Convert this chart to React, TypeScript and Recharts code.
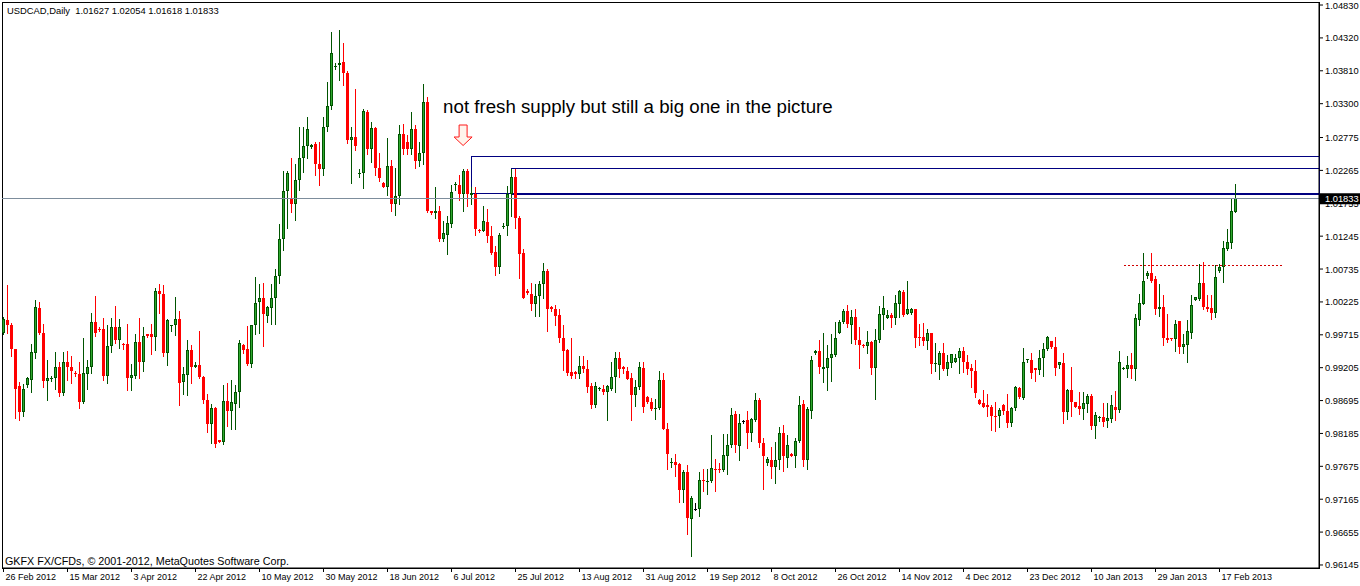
import React from 'react';
import { ComposedChart, Bar, XAxis, YAxis, ReferenceLine, ReferenceArea, ReferenceDot } from 'recharts';

// ---- daily USDCAD bars (open / high / low / close) ----
const OPEN = [
  0.9975,0.9994,0.9987,0.9949,0.9892,0.9851,0.9894,0.9901,0.9944,1.0013,
  0.9974,0.9900,0.9904,0.9905,0.9922,0.9881,0.9929,0.9921,0.9912,0.9910,
  0.9868,0.9911,0.9921,0.9992,0.9981,0.9981,0.9907,0.9954,0.9984,0.9964,
  0.9958,0.9958,0.9904,0.9907,0.9961,0.9929,0.9972,0.9972,0.9968,1.0039,
  1.0035,0.9944,0.9985,0.9987,0.9996,0.9899,0.9909,0.9948,0.9921,0.9925,
  0.9906,0.9871,0.9833,0.9858,0.9808,0.9806,0.9869,0.9854,0.9864,0.9883,
  0.9955,0.9949,0.9926,0.9987,1.0022,1.0029,1.0000,1.0013,1.0029,1.0062,
  1.0120,1.0195,1.0183,1.0174,1.0212,1.0245,1.0264,1.0263,1.0268,1.0237,
  1.0228,1.0294,1.0326,1.0387,1.0390,1.0394,1.0378,1.0274,1.0278,1.0221,
  1.0222,1.0317,1.0259,1.0293,1.0230,1.0207,1.0200,1.0233,1.0175,1.0187,
  1.0283,1.0271,1.0259,1.0291,1.0241,1.0254,1.0333,1.0163,1.0161,1.0164,
  1.0120,1.0127,1.0143,1.0204,1.0204,1.0190,1.0225,1.0189,1.0190,1.0134,
  1.0132,1.0146,1.0125,1.0100,1.0076,1.0139,1.0141,1.0190,1.0216,1.0153,
  1.0099,1.0039,1.0035,1.0019,1.0032,1.0051,1.0071,1.0015,1.0012,1.0002,
  0.9967,0.9948,0.9914,0.9914,0.9910,0.9923,0.9919,0.9892,0.9863,0.9887,
  0.9887,0.9883,0.9887,0.9906,0.9936,0.9922,0.9916,0.9904,0.9878,0.9891,
  0.9920,0.9875,0.9867,0.9857,0.9858,0.9901,0.9826,0.9772,0.9774,0.9771,
  0.9731,0.9758,0.9686,0.9702,0.9702,0.9746,0.9744,0.9744,0.9764,0.9764,
  0.9762,0.9784,0.9800,0.9848,0.9799,0.9838,0.9840,0.9819,0.9840,0.9871,
  0.9804,0.9772,0.9777,0.9767,0.9777,0.9819,0.9781,0.9787,0.9784,0.9807,
  0.9864,0.9777,0.9854,0.9944,0.9946,0.9919,0.9920,0.9935,0.9940,0.9975,
  0.9992,1.0008,0.9987,0.9999,0.9964,0.9956,0.9954,0.9961,0.9920,0.9963,
  1.0002,0.9998,1.0002,0.9997,1.0019,1.0038,1.0004,1.0006,1.0011,0.9968,
  0.9968,0.9962,0.9974,0.9926,0.9925,0.9944,0.9919,0.9927,0.9930,0.9935,
  0.9946,0.9930,0.9920,0.9916,0.9871,0.9865,0.9862,0.9859,0.9846,0.9845,
  0.9862,0.9854,0.9834,0.9858,0.9889,0.9874,0.9932,0.9933,0.9920,0.9917,
  0.9935,0.9949,0.9962,0.9953,0.9925,0.9927,0.9851,0.9886,0.9867,0.9861,
  0.9856,0.9864,0.9877,0.9830,0.9843,0.9844,0.9838,0.9841,0.9860,0.9855,
  0.9919,0.9919,0.9924,0.9918,0.9994,1.0020,1.0062,1.0067,1.0058,1.0011,
  1.0015,0.9967,0.9967,0.9965,0.9993,0.9952,0.9955,0.9975,1.0026,1.0027,
  1.0052,1.0015,1.0013,1.0006,1.0071,1.0077,1.0104,1.0114,1.01627,
];
const HIGH = [
  0.9999,1.0048,0.9990,0.9950,0.9899,0.9895,0.9906,0.9958,1.0026,1.0023,
  0.9989,0.9933,0.9907,0.9945,0.9929,0.9945,0.9946,0.9938,0.9915,0.9929,
  0.9967,0.9932,1.0006,1.0032,0.9983,0.9998,0.9987,0.9998,1.0016,0.9996,
  0.9959,0.9989,0.9926,0.9972,0.9997,0.9984,0.9973,0.9988,1.0044,1.0051,
  1.0048,0.9996,0.9987,1.0030,1.0009,0.9922,0.9963,0.9955,0.9929,0.9977,
  0.9907,0.9879,0.9864,0.9860,0.9809,0.9893,0.9897,0.9901,0.9894,0.9963,
  0.9957,0.9985,0.9987,1.0061,1.0051,1.0052,1.0016,1.0051,1.0074,1.0143,
  1.0225,1.0226,1.0245,1.0237,1.0294,1.0294,1.0310,1.0268,1.0270,1.0270,
  1.0310,1.0364,1.0441,1.0393,1.0445,1.0424,1.0381,1.0294,1.0353,1.0229,
  1.0321,1.0320,1.0301,1.0294,1.0254,1.0208,1.0277,1.0243,1.0230,1.0297,
  1.0298,1.0281,1.0317,1.0297,1.0270,1.0361,1.0340,1.0164,1.0200,1.0171,
  1.0148,1.0156,1.0204,1.0208,1.0219,1.0228,1.0229,1.0201,1.0201,1.0135,
  1.0172,1.0167,1.0140,1.0109,1.0129,1.0145,1.0203,1.0229,1.0229,1.0155,
  1.0104,1.0042,1.0052,1.0051,1.0055,1.0083,1.0074,1.0016,1.0017,1.0012,
  0.9987,0.9950,0.9967,0.9915,0.9938,0.9938,0.9932,0.9896,0.9899,0.9891,
  0.9893,0.9894,0.9930,0.9945,0.9945,0.9923,0.9922,0.9912,0.9901,0.9930,
  0.9929,0.9876,0.9874,0.9872,0.9916,0.9912,0.9834,0.9780,0.9786,0.9773,
  0.9762,0.9770,0.9721,0.9711,0.9759,0.9763,0.9763,0.9816,0.9779,0.9772,
  0.9818,0.9818,0.9858,0.9854,0.9848,0.9840,0.9853,0.9842,0.9882,0.9874,
  0.9812,0.9782,0.9797,0.9805,0.9828,0.9832,0.9816,0.9788,0.9812,0.9877,
  0.9870,0.9859,0.9938,0.9948,0.9963,0.9974,0.9956,0.9972,0.9992,0.9994,
  1.0012,1.0017,1.0010,1.0011,0.9983,0.9958,0.9977,0.9962,0.9981,1.0016,
  1.0031,1.0010,1.0005,1.0033,1.0041,1.0041,1.0055,1.0013,1.0012,0.9989,
  0.9990,0.9981,0.9975,0.9959,0.9946,0.9959,0.9940,0.9941,0.9941,0.9951,
  0.9952,0.9940,0.9926,0.9932,0.9872,0.9886,0.9880,0.9862,0.9867,0.9858,
  0.9864,0.9880,0.9860,0.9892,0.9890,0.9951,0.9934,0.9944,0.9920,0.9948,
  0.9959,0.9970,0.9962,0.9968,0.9930,0.9944,0.9887,0.9921,0.9867,0.9883,
  0.9883,0.9880,0.9879,0.9851,0.9845,0.9865,0.9865,0.9878,0.9884,0.9946,
  0.9922,0.9938,0.9944,1.0003,1.0035,1.0098,1.0071,1.0098,1.0062,1.0051,
  1.0033,1.0003,0.9967,0.9994,0.9993,0.9973,0.9994,1.0033,1.0030,1.0081,
  1.0084,1.0033,1.0033,1.0080,1.0081,1.0117,1.0135,1.0184,1.02054,
];
const LOW = [
  0.9972,0.9974,0.9938,0.9842,0.9839,0.9845,0.9891,0.9883,0.9935,0.9972,
  0.9890,0.9870,0.9900,0.9888,0.9877,0.9878,0.9902,0.9897,0.9907,0.9858,
  0.9866,0.9888,0.9912,0.9970,0.9977,0.9902,0.9897,0.9945,0.9959,0.9951,
  0.9950,0.9886,0.9886,0.9905,0.9905,0.9915,0.9968,0.9942,0.9948,1.0006,
  0.9938,0.9925,0.9978,0.9971,0.9862,0.9880,0.9878,0.9896,0.9921,0.9904,
  0.9865,0.9820,0.9803,0.9798,0.9805,0.9802,0.9830,0.9826,0.9825,0.9859,
  0.9944,0.9924,0.9922,0.9973,0.9974,0.9954,0.9992,0.9989,0.9988,1.0052,
  1.0103,1.0137,1.0162,1.0149,1.0196,1.0224,1.0245,1.0262,1.0220,1.0204,
  1.0219,1.0288,1.0322,1.0384,1.0367,1.0359,1.0269,1.0207,1.0258,1.0216,
  1.0199,1.0252,1.0239,1.0220,1.0210,1.0200,1.0189,1.0164,1.0157,1.0174,
  1.0252,1.0252,1.0252,1.0230,1.0233,1.0236,1.0162,1.0159,1.0153,1.0117,
  1.0117,1.0097,1.0139,1.0196,1.0180,1.0163,1.0171,1.0174,1.0127,1.0131,
  1.0132,1.0116,1.0097,1.0064,1.0067,1.0137,1.0127,1.0155,1.0137,1.0060,
  1.0028,1.0035,1.0010,1.0000,1.0000,1.0028,0.9977,1.0009,0.9987,0.9960,
  0.9917,0.9909,0.9904,0.9904,0.9904,0.9914,0.9883,0.9858,0.9860,0.9886,
  0.9880,0.9839,0.9886,0.9883,0.9906,0.9913,0.9903,0.9839,0.9861,0.9887,
  0.9851,0.9865,0.9855,0.9841,0.9857,0.9825,0.9763,0.9767,0.9752,0.9712,
  0.9712,0.9663,0.9629,0.9699,0.9691,0.9730,0.9724,0.9743,0.9730,0.9758,
  0.9760,0.9755,0.9798,0.9789,0.9778,0.9834,0.9796,0.9807,0.9838,0.9797,
  0.9732,0.9770,0.9749,0.9741,0.9764,0.9760,0.9766,0.9783,0.9767,0.9805,
  0.9768,0.9763,0.9842,0.9942,0.9913,0.9899,0.9886,0.9900,0.9939,0.9974,
  0.9990,0.9983,0.9959,0.9958,0.9920,0.9952,0.9944,0.9910,0.9872,0.9961,
  0.9981,0.9997,0.9983,0.9988,0.9999,1.0000,1.0003,1.0004,0.9952,0.9955,
  0.9955,0.9949,0.9912,0.9915,0.9903,0.9917,0.9909,0.9921,0.9930,0.9913,
  0.9914,0.9910,0.9890,0.9875,0.9864,0.9859,0.9845,0.9824,0.9822,0.9829,
  0.9849,0.9829,0.9830,0.9855,0.9873,0.9872,0.9930,0.9904,0.9900,0.9910,
  0.9907,0.9948,0.9951,0.9909,0.9920,0.9834,0.9841,0.9845,0.9860,0.9849,
  0.9841,0.9851,0.9825,0.9812,0.9838,0.9830,0.9829,0.9837,0.9839,0.9851,
  0.9919,0.9906,0.9905,0.9901,0.9987,1.0019,1.0059,1.0054,1.0004,1.0000,
  0.9955,0.9961,0.9963,0.9946,0.9944,0.9944,0.9930,0.9967,1.0025,1.0026,
  1.0011,1.0009,0.9996,0.9999,1.0069,1.0054,1.0103,1.0106,1.01618,
];
const CLOSE = [
  0.9996,0.9987,0.9949,0.9888,0.9851,0.9888,0.9904,0.9945,1.0015,0.9974,
  0.9900,0.9905,0.9905,0.9922,0.9881,0.9929,0.9921,0.9915,0.9910,0.9868,
  0.9912,0.9921,0.9992,0.9975,0.9979,0.9907,0.9954,0.9984,0.9964,0.9984,
  0.9957,0.9904,0.9909,0.9961,0.9929,0.9969,0.9970,0.9968,1.0039,1.0035,
  0.9944,0.9995,0.9987,0.9996,0.9897,0.9910,0.9948,0.9921,0.9925,0.9906,
  0.9870,0.9833,0.9858,0.9802,0.9806,0.9869,0.9854,0.9867,0.9883,0.9959,
  0.9948,0.9926,0.9987,1.0021,1.0029,1.0003,1.0015,1.0029,1.0062,1.0120,
  1.0195,1.0222,1.0174,1.0212,1.0245,1.0264,1.0291,1.0266,1.0237,1.0229,
  1.0294,1.0326,1.0409,1.0389,1.0393,1.0378,1.0274,1.0278,1.0265,1.0223,
  1.0319,1.0259,1.0293,1.0230,1.0214,1.0200,1.0233,1.0175,1.0187,1.0283,
  1.0259,1.0259,1.0291,1.0241,1.0254,1.0332,1.0164,1.0161,1.0164,1.0120,
  1.0129,1.0145,1.0193,1.0206,1.0190,1.0225,1.0190,1.0192,1.0136,1.0132,
  1.0148,1.0125,1.0099,1.0076,1.0127,1.0141,1.0190,1.0216,1.0152,1.0097,
  1.0029,1.0036,1.0019,1.0032,1.0051,1.0071,1.0012,1.0012,1.0000,0.9966,
  0.9946,0.9912,0.9908,0.9910,0.9923,0.9918,0.9890,0.9863,0.9892,0.9889,
  0.9883,0.9892,0.9906,0.9936,0.9919,0.9918,0.9903,0.9878,0.9891,0.9922,
  0.9860,0.9867,0.9857,0.9858,0.9901,0.9825,0.9786,0.9774,0.9770,0.9731,
  0.9758,0.9687,0.9718,0.9702,0.9746,0.9744,0.9745,0.9765,0.9762,0.9762,
  0.9785,0.9800,0.9847,0.9800,0.9834,0.9838,0.9819,0.9841,0.9871,0.9803,
  0.9783,0.9779,0.9767,0.9778,0.9819,0.9783,0.9800,0.9783,0.9807,0.9863,
  0.9777,0.9857,0.9933,0.9946,0.9921,0.9922,0.9936,0.9941,0.9967,0.9992,
  1.0008,0.9989,0.9999,0.9963,0.9955,0.9955,0.9961,0.9920,0.9964,1.0003,
  1.0013,1.0002,0.9998,1.0021,1.0039,1.0002,1.0011,1.0011,0.9966,0.9966,
  0.9962,0.9975,0.9926,0.9928,0.9944,0.9919,0.9929,0.9941,0.9936,0.9946,
  0.9929,0.9919,0.9915,0.9881,0.9864,0.9859,0.9859,0.9845,0.9845,0.9855,
  0.9854,0.9834,0.9858,0.9890,0.9875,0.9929,0.9934,0.9912,0.9917,0.9935,
  0.9949,0.9968,0.9952,0.9920,0.9930,0.9851,0.9886,0.9868,0.9860,0.9856,
  0.9865,0.9876,0.9830,0.9847,0.9844,0.9836,0.9842,0.9863,0.9855,0.9930,
  0.9920,0.9924,0.9919,0.9997,1.0021,1.0055,1.0068,1.0055,1.0011,1.0015,
  0.9967,0.9963,0.9965,0.9989,0.9952,0.9957,0.9977,1.0018,1.0030,1.0052,
  1.0015,1.0011,1.0006,1.0061,1.0077,1.0106,1.0116,1.0164,1.01833,
];

// ---- axis labels ----
const DATE_TICK_BARS = [0,16,32,48,64,80,96,112,128,144,160,176,192,208,224,240,256,272,288,304];
const DATE_TICK_LABELS = [
  '26 Feb 2012','15 Mar 2012','3 Apr 2012','22 Apr 2012','10 May 2012','30 May 2012','18 Jun 2012',
  '6 Jul 2012','25 Jul 2012','13 Aug 2012','31 Aug 2012','19 Sep 2012','8 Oct 2012','26 Oct 2012',
  '14 Nov 2012','4 Dec 2012','23 Dec 2012','10 Jan 2013','29 Jan 2013','17 Feb 2013',
];
const PRICE_TICKS = [
  1.0483,1.0432,1.0381,1.033,1.02775,1.02265,1.01755,1.01245,1.00735,1.00225,
  0.99715,0.99205,0.98695,0.98185,0.97675,0.97165,0.96655,0.96145,
];
const LAST_PRICE = 1.01833;

// ---- drawn objects (bar index / price) ----
const ZONE_A = { fromBar: 116.9, top: 1.02473, bottom: 1.01907 };
const ZONE_B = { fromBar: 126.9, top: 1.02302, bottom: 1.01891 };
const BREAK_LEVEL = { fromBar: 280.1, toBar: 320.1, price: 1.0079 };
const ARROW_TIP = { bar: 114.9, price: 1.02651 };
const NOTE_AT = { bar: 109.9, price: 1.03155 };

const HEADER = 'USDCAD,Daily  1.01627 1.02054 1.01618 1.01833';
const FOOTER = 'GKFX FX/CFDs, \u00A9 2001-2012, MetaQuotes Software Corp.';
const NOTE = 'not fresh supply but still a big one in the picture';

const X_DOMAIN: [number, number] = [-0.375, 328.875];
const Y_DOMAIN: [number, number] = [0.96098, 1.04877];

const AXIS_FONT = "'Liberation Sans', Arial, sans-serif";

const n = Math.min(OPEN.length, HIGH.length, LOW.length, CLOSE.length);
const data = Array.from({ length: n }, (_, i) => ({
  i,
  o: OPEN[i],
  h: HIGH[i],
  l: LOW[i],
  c: CLOSE[i],
  range: [LOW[i], HIGH[i]],
}));

const UP_EDGE = '#005400';
const UP_FILL = '#2fa82f';
const DOWN = '#ff0000';

const Candle = (props: any) => {
  const { x, y, width, height, payload } = props;
  if (!payload || x == null || y == null) return null;
  const { o, h, l, c } = payload;
  const top = Math.min(y, y + height);
  const bot = Math.max(y, y + height);
  const span = h - l || 1e-9;
  const yOf = (p: number) => top + ((h - p) / span) * (bot - top);
  const cx = Math.floor(x + width / 2) + 0.5;
  const up = c > o;
  const down = c < o;
  const wick = up ? UP_EDGE : down ? DOWN : '#000';
  const yHi = Math.round(yOf(h));
  const yLo = Math.round(yOf(l));
  const bTop = Math.round(yOf(Math.max(o, c)));
  const bBot = Math.round(yOf(Math.min(o, c)));
  const bh = Math.max(1, bBot - bTop);
  return (
    <g>
      <line x1={cx} x2={cx} y1={yHi} y2={yLo + 1} stroke={wick} strokeWidth={1} shapeRendering="crispEdges" />
      {up && (
        <g shapeRendering="crispEdges">
          <rect x={cx - 1.5} y={bTop} width={3} height={bh} fill={UP_EDGE} />
          {bh > 2 && <rect x={cx - 0.5} y={bTop + 1} width={1} height={bh - 2} fill={UP_FILL} />}
        </g>
      )}
      {down && <rect x={cx - 1.5} y={bTop} width={3} height={bh} fill={DOWN} shapeRendering="crispEdges" />}
      {!up && !down && <rect x={cx - 1.5} y={bTop} width={3} height={1} fill="#000" shapeRendering="crispEdges" />}
    </g>
  );
};

const PriceTick = (props: any) => {
  const { x, y, payload } = props;
  const v = payload.value as number;
  if (v === LAST_PRICE) {
    return (
      <g>
        <rect x={x - 5} y={y - 5} width={41} height={11} fill="#000" />
        <text x={x} y={y + 4} fontSize={9.3} fontFamily={AXIS_FONT} fill="#fff">{v.toFixed(5)}</text>
      </g>
    );
  }
  return (
    <text x={x} y={y + 3.5} fontSize={9.3} fontFamily={AXIS_FONT} fill="#000">{v.toFixed(5)}</text>
  );
};

const DateTick = (props: any) => {
  const { x, y, payload } = props;
  const k = DATE_TICK_BARS.indexOf(payload.value);
  return (
    <text x={x + 2} y={y + 8} fontSize={9} fontFamily={AXIS_FONT} fill="#000">{DATE_TICK_LABELS[k] ?? ''}</text>
  );
};

const Arrow = (props: any) => {
  const { cx, cy } = props;
  if (cx == null || cy == null) return null;
  const d = `M${cx},${cy} L${cx - 9},${cy - 8.5} L${cx - 4},${cy - 8.5} L${cx - 4},${cy - 20.5} L${cx + 4},${cy - 20.5} L${cx + 4},${cy - 8.5} L${cx + 9},${cy - 8.5} Z`;
  return <path d={d} fill="#fff4ec" stroke="#ff1a1a" strokeWidth={1} />;
};

const Note = (props: any) => {
  const { cx, cy } = props;
  if (cx == null || cy == null) return null;
  return (
    <text x={cx} y={cy} fontSize={18.7} fontFamily="'Liberation Sans', Arial, sans-serif" fill="#000">{NOTE}</text>
  );
};

export default function App() {
  return (
    <div style={{ position: 'absolute', left: 0, top: 0, width: 1360, height: 586, background: '#fff' }}>
      <ComposedChart width={1360} height={586} data={data} margin={{ top: 2, right: 0, bottom: 0, left: 2 }}>
        <XAxis
          dataKey="i"
          type="number"
          domain={X_DOMAIN}
          allowDataOverflow
          ticks={DATE_TICK_BARS}
          interval={0}
          height={18}
          tickSize={4}
          tickMargin={0}
          axisLine={{ stroke: '#000' }}
          tickLine={{ stroke: '#000' }}
          tick={<DateTick />}
        />
        <YAxis
          orientation="right"
          type="number"
          domain={Y_DOMAIN}
          allowDataOverflow
          ticks={[...PRICE_TICKS, LAST_PRICE]}
          interval={0}
          width={41}
          tickSize={4}
          tickMargin={2}
          axisLine={{ stroke: '#000' }}
          tickLine={{ stroke: '#000' }}
          tick={<PriceTick />}
        />
        <ReferenceArea x1={X_DOMAIN[0]} x2={X_DOMAIN[1]} y1={Y_DOMAIN[0]} y2={Y_DOMAIN[1]} fill="none" stroke="#000" strokeWidth={1} ifOverflow="visible" shapeRendering="crispEdges" />
        <ReferenceLine y={LAST_PRICE} stroke="#7d8d9c" strokeWidth={1} shapeRendering="crispEdges" />
        <ReferenceArea x1={ZONE_A.fromBar} x2={X_DOMAIN[1]} y1={ZONE_A.bottom} y2={ZONE_A.top} fill="none" stroke="#000080" strokeWidth={1} ifOverflow="visible" shapeRendering="crispEdges" />
        <ReferenceArea x1={ZONE_B.fromBar} x2={X_DOMAIN[1]} y1={ZONE_B.bottom} y2={ZONE_B.top} fill="none" stroke="#000080" strokeWidth={1} ifOverflow="visible" shapeRendering="crispEdges" />
        <ReferenceLine
          segment={[{ x: BREAK_LEVEL.fromBar, y: BREAK_LEVEL.price }, { x: BREAK_LEVEL.toBar, y: BREAK_LEVEL.price }]}
          stroke="#d00000"
          strokeDasharray="2 2"
          strokeWidth={1}
          shapeRendering="crispEdges"
        />
        <Bar dataKey="range" barSize={3} isAnimationActive={false} shape={(p: any) => <Candle {...p} />} />
        <ReferenceDot x={ARROW_TIP.bar} y={ARROW_TIP.price} r={1} shape={(p: any) => <Arrow {...p} />} />
        <ReferenceDot x={NOTE_AT.bar} y={NOTE_AT.price} r={1} shape={(p: any) => <Note {...p} />} />
      </ComposedChart>
      <svg width={1360} height={586} style={{ position: 'absolute', left: 0, top: 0, pointerEvents: 'none' }}>
        <text x={7} y={13.5} fontSize={9.4} fontFamily={AXIS_FONT} fill="#000" style={{ whiteSpace: 'pre' }}>{HEADER}</text>
        <text x={5} y={564.5} fontSize={10.75} fontFamily={AXIS_FONT} fill="#000">{FOOTER}</text>
      </svg>
    </div>
  );
}
